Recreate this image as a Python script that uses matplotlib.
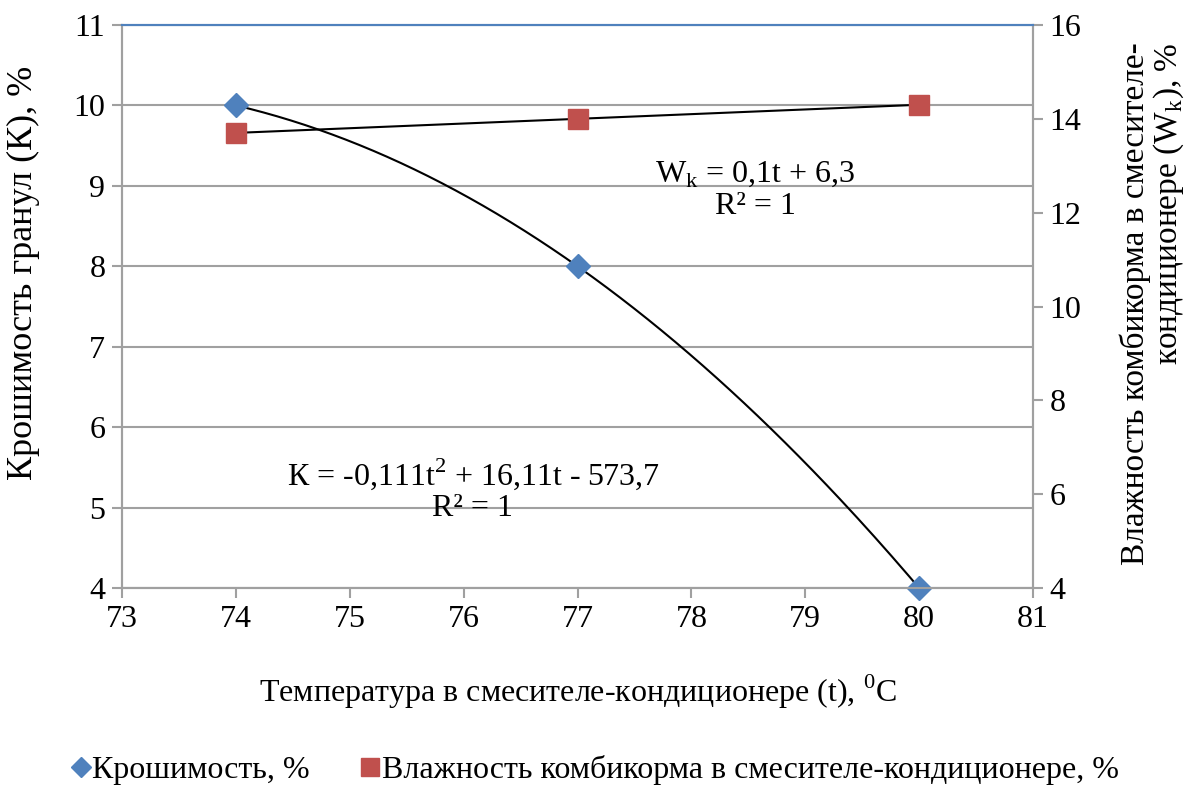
import numpy as np
import matplotlib.pyplot as plt

plt.rcParams['font.family'] = 'serif'
plt.rcParams['font.serif'] = ['Liberation Serif', 'DejaVu Serif']
plt.rcParams['mathtext.fontset'] = 'custom'
plt.rcParams['mathtext.rm'] = 'Liberation Serif'

# data
temps = [74, 77, 80]
krosh = [10, 8, 4]            # Крошимость, %
vlazh = [13.7, 14.0, 14.3]    # Влажность, %
left_ticks = [4, 5, 6, 7, 8, 9, 10, 11]
right_ticks = [4, 6, 8, 10, 12, 14, 16]
x_ticks = [73, 74, 75, 76, 77, 78, 79, 80, 81]

fs = 23
fig = plt.figure(figsize=(11.9, 7.85), dpi=100)
ax = fig.add_axes([122/1190, 1 - 588/785, (1033-122)/1190, (588-25)/785])
ax2 = ax.twinx()

ax.set_xlim(73, 81)
ax.set_ylim(4, 11)
ax2.set_ylim(4, 16)
ax.set_xticks(x_ticks)
ax.set_yticks(left_ticks)
ax2.set_yticks(right_ticks)

ax.grid(axis='y', color='#a0a0a0', lw=1.5)
ax.set_axisbelow(True)
for a in (ax, ax2):
    for s in a.spines.values():
        s.set_color('#a0a0a0')
        s.set_linewidth(1.5)
    a.spines['top'].set_color('#4f81bd')
    a.tick_params(labelsize=fs, length=7, width=1.5, color='#a0a0a0', pad=5)

# trend lines
tt = np.linspace(74, 80, 200)
pk = np.polyfit(temps, krosh, 2)
ax.plot(tt, np.polyval(pk, tt), color='black', lw=1.5, zorder=3)
pw = np.polyfit(temps, vlazh, 1)
ax2.plot(tt, np.polyval(pw, tt), color='black', lw=1.5, zorder=3)

h1, = ax.plot(temps, krosh, ls='none', marker='D', ms=12, color='#4f81bd',
              zorder=4, clip_on=False, label='Крошимость, %')
h2, = ax2.plot(temps, vlazh, ls='none', marker='s', ms=15, color='#c0504d',
               zorder=4, clip_on=False,
               label='Влажность комбикорма в смесителе-кондиционере, %')

ax.set_xlabel('Температура в смесителе-кондиционере (t), $^\\mathregular{0}$C', fontsize=fs)
ax.xaxis.set_label_coords(0.5, -0.15)
ax.set_ylabel('Крошимость гранул (К), %', fontsize=26)
ax.yaxis.set_label_coords(-0.09, 0.56)
ax2.set_ylabel('Влажность комбикорма в смесителе-\nкондиционере (W$_\\mathregular{k}$), %',
               fontsize=24, linespacing=1.0, multialignment='right')
ax2.yaxis.set_label_coords(1.095, 0.505)

ax2.text(78.56, 12.48, 'W$_\\mathregular{k}$ = 0,1t + 6,3\nR² = 1', ha='center',
         va='center', fontsize=fs, linespacing=1.1)
ax.text(76.08, 5.22, 'К = -0,111t$^\\mathregular{2}$ + 16,11t - 573,7\nR² = 1', ha='center',
        va='center', fontsize=fs, linespacing=1.1)

fig.legend(handles=[h1, h2], loc='center', bbox_to_anchor=(0.5, 1 - 770/785), ncol=2,
           frameon=False, fontsize=fs, handlelength=0.6, handletextpad=0.05,
           columnspacing=1.6, markerscale=0.85)

fig.savefig('out.png', dpi=100)
